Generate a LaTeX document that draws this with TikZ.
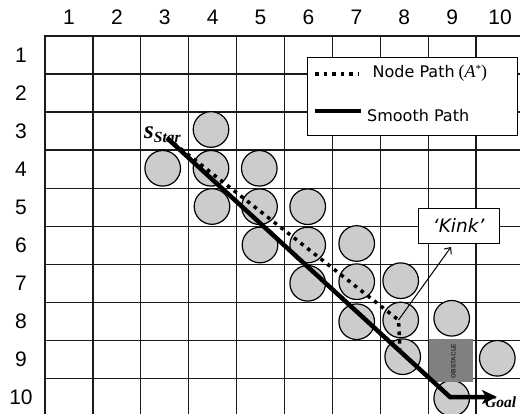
\documentclass[tikz,border=0pt]{standalone}
\usepackage{fontspec}
\setmainfont{Liberation Sans}
\newfontfamily\dejavu{DejaVu Sans}
\newfontfamily\serifrm{Liberation Serif}
\newfontfamily\serifit{Liberation Serif Italic}
\newfontfamily\serifbi{Liberation Serif Bold Italic}
\usetikzlibrary{arrows.meta}
\definecolor{circfill}{HTML}{CCCCCC}
\definecolor{obstfill}{HTML}{808080}
\definecolor{gridcol}{HTML}{1A1A1A}
\begin{document}
\begin{tikzpicture}[x=1pt,y=-1pt,
  gridline/.style={draw=gridcol, line width=1.3pt},
  numlabel/.style={font=\fontsize{21}{21}\selectfont, inner sep=0pt},
  obstcircle/.style={circle, draw=black, line width=1.2pt, fill=circfill, minimum size=35.6pt, inner sep=0pt},
  obstbox/.style={fill=obstfill, minimum width=44.5pt, minimum height=42.5pt, inner sep=0pt},
  legendbox/.style={draw=black, line width=1pt, fill=white, inner sep=0pt},
  legendtext/.style={font=\dejavu\fontsize{16}{16}\selectfont, anchor=west, inner sep=0pt},
  kinkbox/.style={draw=black, line width=1pt, fill=white, minimum width=81pt, minimum height=35pt, inner sep=0pt, font=\dejavu\itshape\fontsize{18.5}{18.5}\selectfont},
  nodepath/.style={line width=3.5pt, dash pattern=on 3.6pt off 4.9pt, black},
  smoothpath/.style={line width=4.5pt, black},
]
\useasboundingbox (0,0) rectangle (520,414);
\clip (0,0) rectangle (520,414);
% grid
\foreach \i in {0,...,10} \draw[gridline] ({45+\i*47.9},36) -- ({45+\i*47.9},420);
\foreach \j in {0,...,10} \draw[gridline] (44.35,{36+\j*38.05}) -- (530,{36+\j*38.05});
% labels
\foreach \i in {1,...,10} \node[numlabel] (col\i) at ({45+(\i-0.5)*47.9},17.5) {\i};
\foreach \j in {1,...,10} \node[numlabel] (row\j) at (21,{36+(\j-0.5)*38.05}) {\j};
% circles
\node[obstcircle] (c34) at (211,129.5) {};
\node[obstcircle] (c43) at (162.7,168.3) {};
\node[obstcircle] (c44) at (211,168.3) {};
\node[obstcircle] (c45) at (259.3,168.3) {};
\node[obstcircle] (c54) at (212,206.5) {};
\node[obstcircle] (c55) at (259.5,206.7) {};
\node[obstcircle] (c56) at (307.7,206.7) {};
\node[obstcircle] (c65) at (260,245) {};
\node[obstcircle] (c66) at (307.7,245) {};
\node[obstcircle] (c67) at (356.7,243.5) {};
\node[obstcircle] (c76) at (307.7,283.3) {};
\node[obstcircle] (c77) at (356.7,281.7) {};
\node[obstcircle] (c78) at (400.7,280.7) {};
\node[obstcircle] (c87) at (356.7,321.7) {};
\node[obstcircle] (c88) at (400.7,320) {};
\node[obstcircle] (c89) at (451.7,318.3) {};
\node[obstcircle] (c98) at (402.7,356.7) {};
\node[obstcircle] (c910) at (497.3,358.3) {};
\node[obstcircle] (c109) at (451.7,398.3) {};
% obstacle
\node[obstbox] (obst) at (451.2,360.5) {};
\node[rotate=90, inner sep=0pt, text=black!85, font=\fontsize{6.3}{6.3}\selectfont\bfseries] (obsttext) at (453.5,361) {OBSTACLE};
% legend
\node[legendbox, minimum width=209.6pt, minimum height=77.7pt] (legend) at (412.5,96.2) {};
\coordinate (lna) at (315,74);
\coordinate (lnb) at (359,74);
\coordinate (lsa) at (315,111);
\coordinate (lsb) at (361,111);
\draw[nodepath] (lna) -- (lnb);
\draw[line width=4pt] (lsa) -- (lsb);
\node[legendtext] (lnt) at (372.5,73.5) {Node Path\hspace{4pt}{\fontsize{18}{18}\selectfont\serifrm(\serifit A\raisebox{5pt}{\serifrm\fontsize{11}{11}\selectfont*}\serifrm)}};
\node[legendtext] (lst) at (367,115.5) {Smooth Path};
% kink box
\node[kinkbox] (kink) at (458.7,225.8) {‘Kink’};
% start / goal labels
\node[anchor=base west, inner sep=0pt] (slabel) at (144,138.3) {\serifbi\fontsize{25}{25}\selectfont s\raisebox{-4pt}{\fontsize{15.5}{15.5}\selectfont Star}};
\node[anchor=base west, inner sep=0pt] (glabel) at (485,407) {\serifbi\fontsize{15.5}{15.5}\selectfont Goal};
% paths
\coordinate (start) at (167,138);
\coordinate (kinkpt) at (398.5,320);
\coordinate (kinkend) at (400,349);
\coordinate (turn) at (450,397);
\coordinate (goal) at (497,397);
\coordinate (kinktip) at (451,247);
\draw[nodepath] (start) -- (kinkpt) -- (kinkend);
\draw[smoothpath, line join=miter, -{Stealth[length=15pt,width=14pt,inset=4pt]}] (start) -- (turn) -- (goal);
\draw[line width=1pt, -{Straight Barb[length=5pt,width=9pt]}] (kinkpt) -- (kinktip);
\end{tikzpicture}
\end{document}
